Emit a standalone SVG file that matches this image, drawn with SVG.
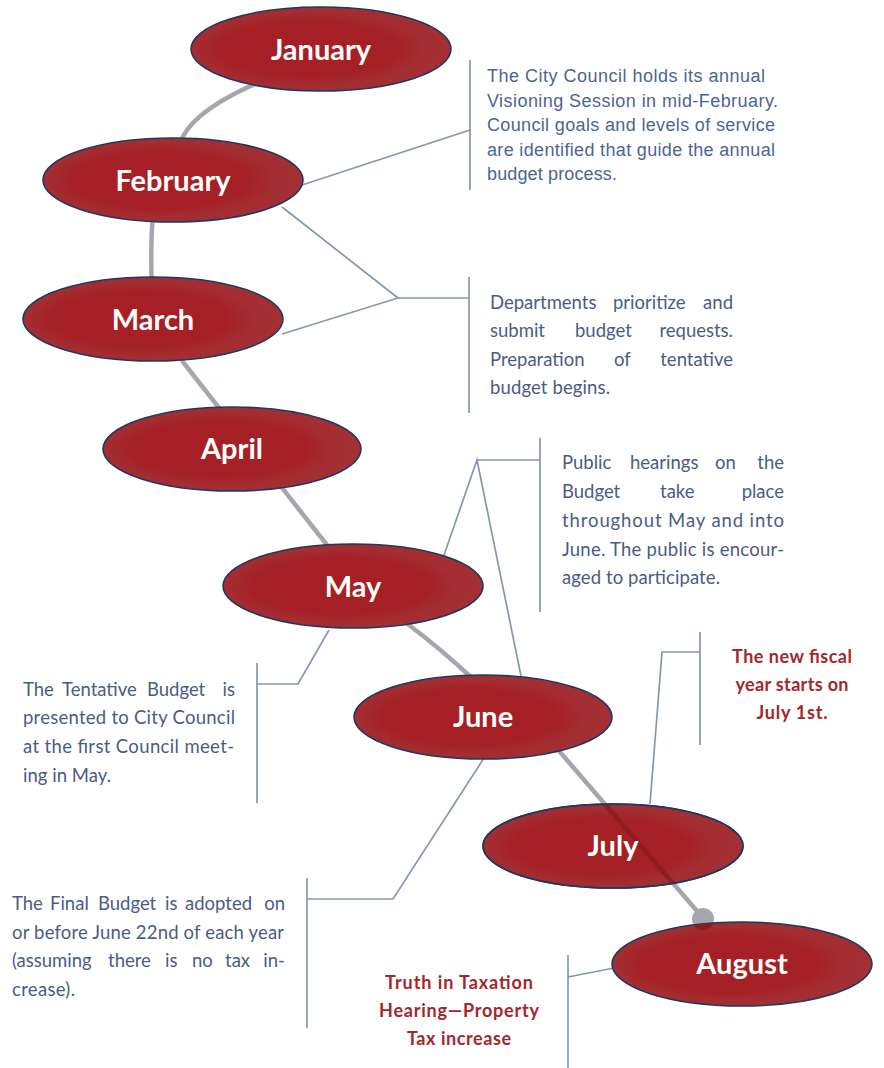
<svg xmlns="http://www.w3.org/2000/svg" width="884" height="1068" viewBox="0 0 884 1068">
<style>
.node{stroke:#1f3864;stroke-width:1.6;fill:url(#rg)}
.mon{font-family:Lato,"Open Sans",sans-serif;font-weight:bold;font-size:29px;fill:#ffffff;text-anchor:middle}
.path{fill:none;stroke:#a4a8ae;stroke-width:4.5;stroke-linecap:round}
.call{fill:none;stroke:#8597b2;stroke-width:1.7}
.b1{font-family:"Liberation Sans",Arial,sans-serif;font-size:18px;fill:#4c6595}
.bt{font-family:Lato,"Open Sans",sans-serif;font-size:18.5px;fill:#4a5c86}
.rt{font-family:Lato,"Open Sans",sans-serif;font-weight:bold;font-size:18px;fill:#a3262b;text-anchor:middle}
.e{text-anchor:end}
</style>
<defs>
<radialGradient id="rg" cx="0.45" cy="0.5" r="0.55">
<stop offset="0" stop-color="#a61f24"/>
<stop offset="0.6" stop-color="#a52126"/>
<stop offset="0.8" stop-color="#a32d31"/>
<stop offset="1" stop-color="#a33034"/>
</radialGradient>
<clipPath id="cJul"><ellipse cx="613" cy="846" rx="130" ry="42"/></clipPath>
<clipPath id="cAug"><ellipse cx="742" cy="964" rx="130" ry="42"/></clipPath>
</defs>
<rect width="884" height="1068" fill="#ffffff"/>

<g id="connectors">
<path class="path" d="M257,83 Q182,116 179,150"/>
<path class="path" d="M153,212 Q150,250 152,288"/>
<path class="path" d="M183,362 L327,545"/>
<path class="path" d="M405,622 Q440,648 474,680"/>
<path class="path" d="M560,752 L703,918"/>
<circle cx="703" cy="919" r="11" fill="#a4a8ae"/>
<polyline class="call" points="302,185 470,130"/>
<line class="call" x1="470" y1="60" x2="470" y2="190"/>
<polyline class="call" points="282,207 398,298 282,334"/>
<line class="call" x1="398" y1="298" x2="469" y2="298"/>
<line class="call" x1="469" y1="277" x2="469" y2="413"/>
<polyline class="call" points="443,558 477,460 521,676"/>
<line class="call" x1="477" y1="460" x2="540" y2="460"/>
<line class="call" x1="540" y1="438" x2="540" y2="612"/>
<polyline class="call" points="257,684 298,684 329,630"/>
<line class="call" x1="257" y1="663" x2="257" y2="803"/>
<polyline class="call" points="650,804 662,652 700,652"/>
<line class="call" x1="700" y1="632" x2="700" y2="745"/>
<polyline class="call" points="307,899 393,899 484,758"/>
<line class="call" x1="307" y1="878" x2="307" y2="1028"/>
<polyline class="call" points="568,977 614,968"/>
<line class="call" x1="568" y1="955" x2="568" y2="1068"/>
</g>

<g id="january"><ellipse class="node" cx="321" cy="49" rx="130" ry="42"/><text class="mon" x="321" y="60">January</text></g>
<g id="february"><ellipse class="node" cx="173" cy="180" rx="130" ry="42"/><text class="mon" x="173" y="191">February</text></g>
<g id="march"><ellipse class="node" cx="153" cy="319" rx="130" ry="42"/><text class="mon" x="153" y="330">March</text></g>
<g id="april"><ellipse class="node" cx="232" cy="449" rx="129" ry="42"/><text class="mon" x="232" y="459">April</text></g>
<g id="may"><ellipse class="node" cx="353" cy="586" rx="130" ry="42"/><text class="mon" x="353" y="597">May</text></g>
<g id="june"><ellipse class="node" cx="483" cy="717" rx="129" ry="42"/><text class="mon" x="483" y="727">June</text></g>
<g id="july"><ellipse class="node" cx="613" cy="846" rx="130" ry="42"/>
<line x1="560" y1="752" x2="703" y2="918" stroke="#8e1d21" stroke-width="4.5" clip-path="url(#cJul)"/>
<ellipse cx="613" cy="846" rx="130" ry="42" fill="none" stroke="#1f3864" stroke-width="1.6"/>
<text class="mon" x="613" y="856">July</text></g>
<g id="august"><ellipse class="node" cx="742" cy="964" rx="130" ry="42"/>
<circle cx="703" cy="919" r="11" fill="#8e1d21" clip-path="url(#cAug)"/>
<text class="mon" x="742" y="974">August</text></g>

<g id="note-february">
<text class="b1" x="487" y="82" textLength="278">The City Council holds its annual</text>
<text class="b1" x="487" y="107" textLength="291">Visioning Session in mid-February.</text>
<text class="b1" x="487" y="131" textLength="288">Council goals and levels of service</text>
<text class="b1" x="487" y="156" textLength="288">are identified that guide the annual</text>
<text class="b1" x="487" y="180" textLength="130">budget process.</text>
</g>

<g id="note-march" class="bt">
<text y="309"><tspan x="490">Departments</tspan><tspan x="613">prioritize</tspan><tspan x="733" class="e">and</tspan></text>
<text y="337"><tspan x="490">submit</tspan><tspan x="575">budget</tspan><tspan x="733" class="e">requests.</tspan></text>
<text y="366"><tspan x="490">Preparation</tspan><tspan x="614">of</tspan><tspan x="733" class="e">tentative</tspan></text>
<text x="490" y="394" textLength="120">budget begins.</text>
</g>

<g id="note-may" class="bt">
<text y="469"><tspan x="562">Public</tspan><tspan x="630">hearings</tspan><tspan x="715">on</tspan><tspan x="784" class="e">the</tspan></text>
<text y="498"><tspan x="562">Budget</tspan><tspan x="660">take</tspan><tspan x="784" class="e">place</tspan></text>
<text x="562" y="527" textLength="222">throughout May and into</text>
<text x="562" y="556" textLength="222">June. The public is encour-</text>
<text x="562" y="584" textLength="158">aged to participate.</text>
</g>

<g id="note-tentative" class="bt">
<text y="696"><tspan x="23">The</tspan><tspan x="62">Tentative</tspan><tspan x="147">Budget</tspan><tspan x="235" class="e">is</tspan></text>
<text x="23" y="724" textLength="212">presented to City Council</text>
<text x="23" y="753" textLength="211">at the first Council meet-</text>
<text x="23" y="782" textLength="88">ing in May.</text>
</g>

<g id="note-fiscal">
<text class="rt" x="792" y="663" textLength="120">The new fiscal</text>
<text class="rt" x="792" y="691" textLength="113">year starts on</text>
<text class="rt" x="792" y="719" textLength="71">July 1st.</text>
</g>

<g id="note-final" class="bt">
<text y="910"><tspan x="12">The</tspan><tspan x="50">Final</tspan><tspan x="98">Budget</tspan><tspan x="165">is</tspan><tspan x="185">adopted</tspan><tspan x="285" class="e">on</tspan></text>
<text x="12" y="939" textLength="272">or before June 22nd of each year</text>
<text y="967"><tspan x="12">(assuming</tspan><tspan x="108">there</tspan><tspan x="165">is</tspan><tspan x="192">no</tspan><tspan x="225">tax</tspan><tspan x="285" class="e">in-</tspan></text>
<text x="12" y="996" textLength="63">crease).</text>
</g>

<g id="note-august">
<text class="rt" x="459" y="989" textLength="148">Truth in Taxation</text>
<text class="rt" x="459" y="1017" textLength="160">Hearing—Property</text>
<text class="rt" x="459" y="1045" textLength="104">Tax increase</text>
</g>
</svg>
